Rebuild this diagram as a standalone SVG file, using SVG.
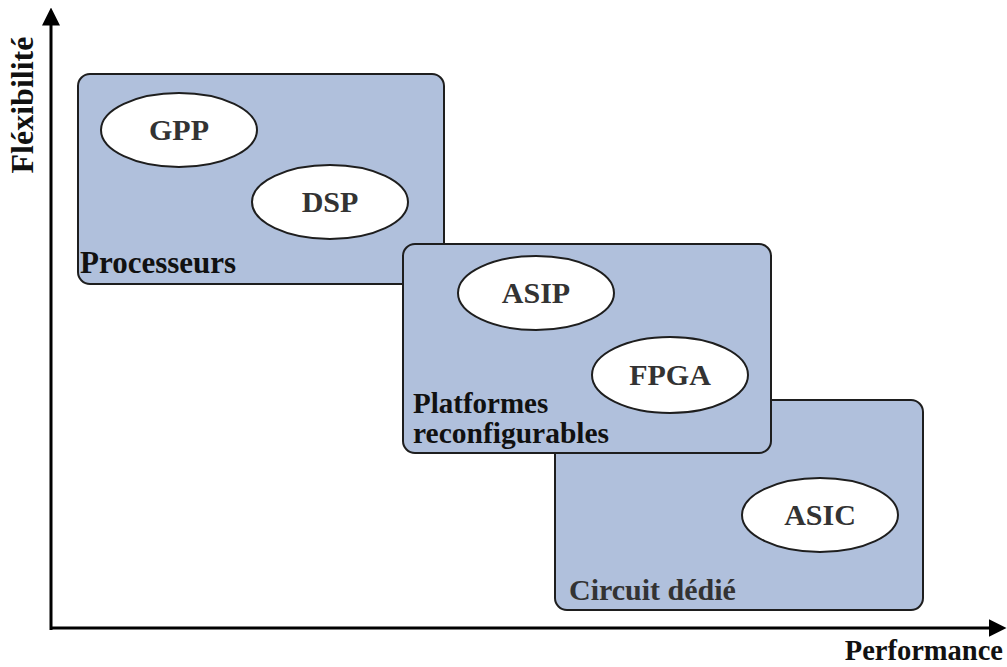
<svg xmlns="http://www.w3.org/2000/svg" width="1007" height="667" viewBox="0 0 1007 667">
<style>
.box{fill:#b0c0dc;stroke:#1e1e1e;stroke-width:2}
.ell{fill:#ffffff;stroke:#1e1e1e;stroke-width:2}
.t{font-family:"Liberation Serif","Times New Roman",serif;font-weight:bold;font-size:30px}
.in{fill:#333333;text-anchor:middle}
.lbl{fill:#111111}
.axis{stroke:#000;stroke-width:3;fill:none}
</style>
<defs>
<marker id="arr" markerWidth="6" markerHeight="6" refX="4.5" refY="3" orient="auto" markerUnits="strokeWidth">
<path d="M0,0 L6,3 L0,6 Z" fill="#000"/>
</marker>
</defs>
<rect width="1007" height="667" fill="#ffffff"/>
<g id="connectors">
<line class="axis" x1="51" y1="630" x2="51" y2="12" marker-end="url(#arr)"/>
<line class="axis" x1="50" y1="628" x2="1002" y2="628" marker-end="url(#arr)"/>
</g>
<g id="axis-y-label"><text class="t lbl" x="33" y="105" text-anchor="middle" transform="rotate(-90 33 105)" style="font-size:32px">Fléxibilité</text></g>
<g id="axis-x-label"><text class="t lbl" x="1003" y="660" text-anchor="end" style="font-size:28.5px">Performance</text></g>
<g id="circuit">
<rect class="box" x="555" y="400" width="368" height="210" rx="12"/>
<text class="t" x="569" y="600" fill="#333333">Circuit dédié</text>
</g>
<g id="asic">
<ellipse class="ell" cx="820" cy="515" rx="78" ry="37"/>
<text class="t in" x="820" y="525">ASIC</text>
</g>
<g id="processeurs">
<rect class="box" x="78" y="74" width="366" height="210" rx="12"/>
<text class="t lbl" x="80" y="273" style="font-size:31px">Processeurs</text>
</g>
<g id="gpp">
<ellipse class="ell" cx="179" cy="130" rx="78" ry="37"/>
<text class="t in" x="179" y="140">GPP</text>
</g>
<g id="dsp">
<ellipse class="ell" cx="330" cy="202" rx="78" ry="37"/>
<text class="t in" x="330" y="212">DSP</text>
</g>
<g id="platformes">
<rect class="box" x="403" y="244" width="368" height="209" rx="12"/>
<text class="t lbl" x="413" y="413" style="font-size:29px">Platformes</text>
<text class="t lbl" x="413" y="443" style="font-size:29.5px">reconfigurables</text>
</g>
<g id="asip">
<ellipse class="ell" cx="536" cy="293" rx="78" ry="37"/>
<text class="t in" x="536" y="303">ASIP</text>
</g>
<g id="fpga">
<ellipse class="ell" cx="670" cy="375" rx="78" ry="38"/>
<text class="t in" x="670" y="385">FPGA</text>
</g>
</svg>
